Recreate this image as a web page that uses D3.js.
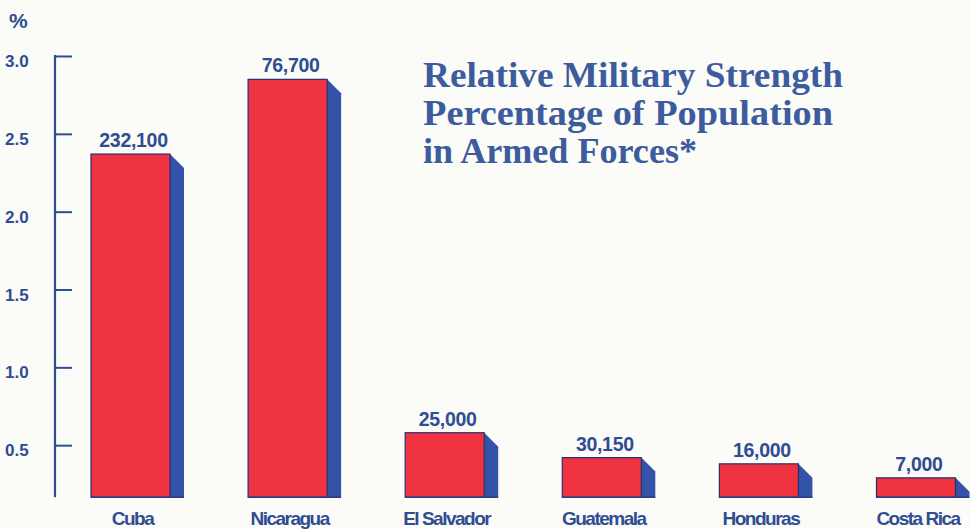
<!DOCTYPE html>
<html>
<head>
<meta charset="utf-8">
<script src="https://cdn.jsdelivr.net/npm/d3@7"></script>
<style>
  html, body { margin: 0; padding: 0; background: #fbfbf8; }
  svg { display: block; }
</style>
</head>
<body>
<script>
// ---- data ----
const countries = ["Cuba", "Nicaragua", "El Salvador", "Guatemala", "Honduras", "Costa Rica"];
const percentValues = [2.37, 2.85, 0.58, 0.42, 0.38, 0.29];
const troopLabels = ["232,100", "76,700", "25,000", "30,150", "16,000", "7,000"];
const yTicks = [0.5, 1.0, 1.5, 2.0, 2.5, 3.0];
const baselineValue = 0.165; // visible bottom of the axis
const titleLines = ["Relative Military Strength", "Percentage of Population", "in Armed Forces*"];
const titleWidths = [420, 410, 274];

// ---- layout ----
const W = 970, H = 529;
const navy = "#2f4d93";
const red = "#ef3340";
const side = "#3352a8";
const depth = 14;

const svg = d3.select("body").append("svg").attr("width", W).attr("height", H);
svg.append("rect").attr("width", W).attr("height", H).attr("fill", "#fbfbf8");

const y = d3.scaleLinear().domain([0, 3]).range([523, 56]);
const x = d3.scaleBand().domain(countries).range([91, 955.5]).paddingInner(0.497).paddingOuter(0);

// axis
const axisX = 55;
const axis = svg.append("g").attr("transform", `translate(${axisX},0)`)
  .call(d3.axisRight(y).tickValues(yTicks).tickSize(17).tickFormat(""));
axis.select(".domain").remove();
axis.selectAll(".tick line").attr("stroke", navy).attr("stroke-width", 2);
axis.append("line").attr("x1", 0).attr("x2", 0)
  .attr("y1", y(3) - 1).attr("y2", y(baselineValue))
  .attr("stroke", navy).attr("stroke-width", 2.2);

// tick labels
svg.append("g").selectAll("text").data(yTicks).join("text")
  .attr("x", 5).attr("y", d => y(d) + 11)
  .attr("font-family", "Liberation Sans, Arial, sans-serif")
  .attr("font-weight", "bold").attr("font-size", 17)
  .attr("fill", navy)
  .text(d => d3.format(".1f")(d));

svg.append("text").attr("x", 9).attr("y", 28)
  .attr("font-family", "Liberation Sans, Arial, sans-serif")
  .attr("font-weight", "bold").attr("font-size", 21)
  .attr("fill", navy).text("%");

// bars
const data = countries.map((c, i) => ({ c, v: percentValues[i], lab: troopLabels[i] }));
const bw = x.bandwidth();
const bars = svg.append("g").selectAll("g").data(data).join("g");

bars.append("path")
  .attr("d", d => {
    const x0 = x(d.c) + bw, t = y(d.v), b = y(baselineValue);
    return `M${x0},${t} L${x0 + depth},${t + depth} L${x0 + depth},${b} L${x0},${b} Z`;
  })
  .attr("fill", side);

bars.append("rect")
  .attr("x", d => x(d.c)).attr("y", d => y(d.v))
  .attr("width", bw).attr("height", d => y(baselineValue) - y(d.v))
  .attr("fill", red).attr("stroke", "#24306a").attr("stroke-width", 1.2);

bars.append("line")
  .attr("x1", d => x(d.c)).attr("x2", d => x(d.c) + bw + depth)
  .attr("y1", y(baselineValue)).attr("y2", y(baselineValue))
  .attr("stroke", "#2a3c8a").attr("stroke-width", 1.5);

// value labels
bars.append("text")
  .attr("x", d => x(d.c) + bw / 2 + 3)
  .attr("y", d => y(d.v) - 7)
  .attr("text-anchor", "middle")
  .attr("font-family", "Liberation Sans, Arial, sans-serif")
  .attr("font-weight", "bold").attr("font-size", 19.5)
  .attr("letter-spacing", -0.3)
  .attr("fill", navy)
  .text(d => d.lab);

// category labels
bars.append("text")
  .attr("x", d => x(d.c) + bw / 2 + 2)
  .attr("y", 525)
  .attr("text-anchor", "middle")
  .attr("font-family", "Liberation Sans, Arial, sans-serif")
  .attr("font-weight", "bold").attr("font-size", 19)
  .attr("letter-spacing", -1.5)
  .attr("fill", navy)
  .text(d => d.c);

// title
const title = svg.append("g");
title.selectAll("text").data(titleLines).join("text")
  .attr("x", 423).attr("y", (d, i) => 87 + i * 38)
  .attr("font-family", "Liberation Serif, Times New Roman, serif")
  .attr("font-weight", "bold").attr("font-size", 36)
  .attr("textLength", (d, i) => titleWidths[i])
  .attr("lengthAdjust", "spacingAndGlyphs")
  .attr("fill", "#3d5c9e")
  .text(d => d);
</script>
</body>
</html>
